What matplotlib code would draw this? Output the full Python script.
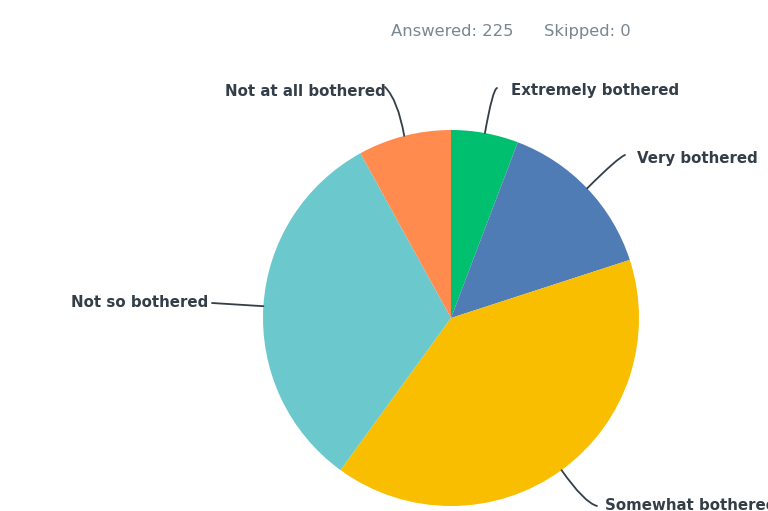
import numpy as np
import matplotlib.pyplot as plt

# respuestas
labels = ['Extremely bothered', 'Very bothered', 'Somewhat bothered',
          'Not so bothered', 'Not at all bothered']
counts = [13, 32, 90, 72, 18]
colors = ['#00BF6F', '#507CB6', '#F9BE00', '#6BC8CD', '#FF8B4F']
answered = 225
skipped = 0

W, H = 768, 511
fig = plt.figure(figsize=(W/100, H/100), dpi=100)
ax = fig.add_axes([0, 0, 1, 1])

cx, cy, R = 451, H - 318, 188
wedges, _ = ax.pie(counts, colors=colors, startangle=90, counterclock=False,
                   center=(cx, cy), radius=R, frame=True,
                   wedgeprops=dict(linewidth=0))
ax.set_xlim(0, W)
ax.set_ylim(0, H)
ax.set_aspect('equal')
ax.axis('off')

# posicion del texto, extremo de la linea, angulos de la curva, alineacion
txt = {
    'Extremely bothered': ((511, 90), (497, 88), (200, 80), 'left'),
    'Very bothered': ((637, 158), (625, 155), (200, 45), 'left'),
    'Somewhat bothered': ((605, 505), (597, 506), (165, 125), 'left'),
    'Not so bothered': ((208, 302), (212, 303), None, 'right'),
    'Not at all bothered': ((386, 91), (385, 87), (-45, 100), 'right'),
}

for w, lab in zip(wedges, labels):
    ang = np.deg2rad((w.theta1 + w.theta2) / 2)
    px = cx + R * np.cos(ang)
    py = cy + R * np.sin(ang)
    (tx, ty), (lx, ly), angs, ha = txt[lab]
    ax.text(tx, H - ty, lab, ha=ha, va='center', fontsize=10.8,
            fontweight='bold', color='#333e48')
    if angs is None:
        cs = 'arc3,rad=0'
    else:
        cs = 'angle3,angleA=%d,angleB=%d' % angs
    ax.annotate('', xy=(px, py), xytext=(lx, H - ly),
                arrowprops=dict(arrowstyle='-', color='#333e48', lw=1.3,
                                shrinkA=0, shrinkB=0, connectionstyle=cs))

ax.text(452.5, H - 31, 'Answered: %d' % answered, ha='center', va='center',
        fontsize=11.8, color='#7a8690')
ax.text(587, H - 31, 'Skipped: %d' % skipped, ha='center', va='center',
        fontsize=11.8, color='#7a8690')

fig.savefig('out.png', dpi=100)
